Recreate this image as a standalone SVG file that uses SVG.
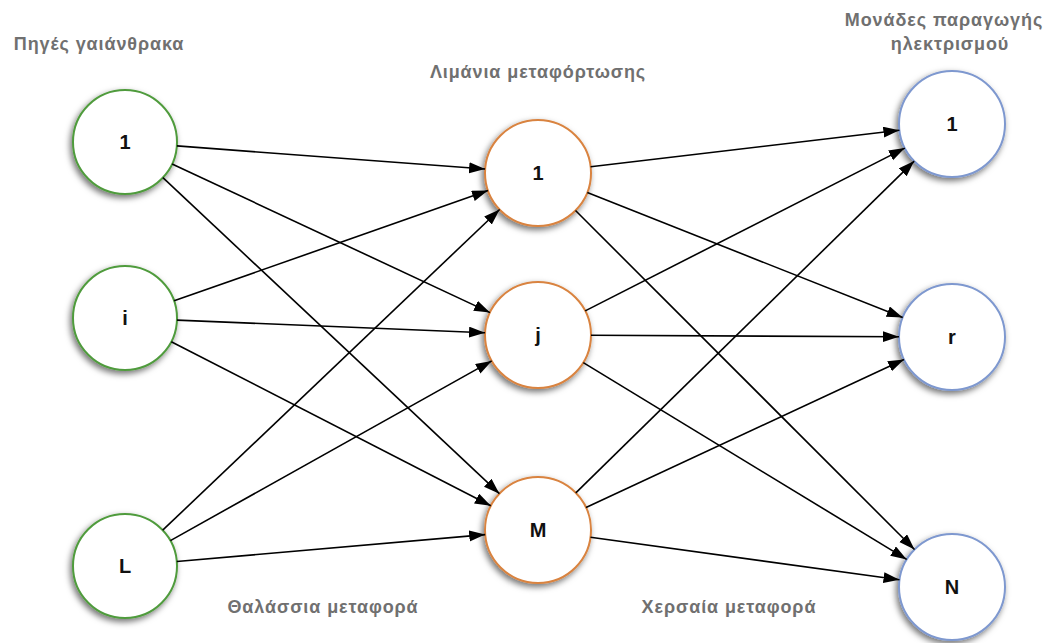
<svg xmlns="http://www.w3.org/2000/svg" width="1051" height="643" viewBox="0 0 1051 643">
  <style>
    .node circle { fill: #ffffff; stroke-width: 2; filter: url(#shadow); }
    .src circle { stroke: #4f9b3c; }
    .port circle { stroke: #d9833f; }
    .plant circle { stroke: #7e98cf; }
    .node text { font-family: "Liberation Sans", Arial, sans-serif; font-weight: bold; font-size: 20px; fill: #111; text-anchor: middle; dominant-baseline: central; }
    .title { font-family: "Liberation Sans", Arial, sans-serif; font-weight: bold; font-size: 18px; letter-spacing: 0.9px; fill: #707070; text-anchor: middle; }
    #connectors line { stroke: #000; stroke-width: 1.6; marker-end: url(#arrow); }
  </style>
  <defs>
    <filter id="shadow" x="-30%" y="-30%" width="160%" height="160%">
      <feDropShadow dx="-2" dy="3" stdDeviation="3" flood-color="#000" flood-opacity="0.55"/>
    </filter>
    <marker id="arrow" markerUnits="userSpaceOnUse" markerWidth="17" markerHeight="12" refX="16" refY="5.5" orient="auto">
      <path d="M0,0 L16,5.5 L0,11 z" fill="#000"/>
    </marker>
  </defs>

  <rect width="1051" height="643" fill="#ffffff"/>

  <!-- column titles -->
  <text class="title" x="99" y="50">Πηγές γαιάνθρακα</text>
  <text class="title" x="538" y="78">Λιμάνια μεταφόρτωσης</text>
  <text class="title" x="944" y="26">Μονάδες παραγωγής</text>
  <text class="title" x="950" y="50">ηλεκτρισμού</text>
  <text class="title" x="323" y="613">Θαλάσσια μεταφορά</text>
  <text class="title" x="729" y="613">Χερσαία μεταφορά</text>

  <!-- coal sources -->
  <g id="src-1" class="node src"><circle cx="125" cy="142" r="52"/><text x="125" y="142">1</text></g>
  <g id="src-i" class="node src"><circle cx="125" cy="318" r="52"/><text x="125" y="318">i</text></g>
  <g id="src-L" class="node src"><circle cx="125" cy="566" r="52"/><text x="125" y="566">L</text></g>

  <!-- transshipment ports -->
  <g id="port-1" class="node port"><circle cx="538" cy="173" r="53"/><text x="538" y="173">1</text></g>
  <g id="port-j" class="node port"><circle cx="538" cy="335" r="53"/><text x="538" y="335">j</text></g>
  <g id="port-M" class="node port"><circle cx="538" cy="530" r="53"/><text x="538" y="530">M</text></g>

  <!-- power plants -->
  <g id="plant-1" class="node plant"><circle cx="952" cy="124" r="53"/><text x="952" y="124">1</text></g>
  <g id="plant-r" class="node plant"><circle cx="952" cy="337" r="53"/><text x="952" y="337">r</text></g>
  <g id="plant-N" class="node plant"><circle cx="952" cy="587" r="53"/><text x="952" y="587">N</text></g>

  <g id="connectors">
    <!-- sea transport -->
    <line x1="176.9" y1="145.9" x2="485.1" y2="169.0"/>
    <line x1="172.1" y1="164.0" x2="490.0" y2="312.6"/>
    <line x1="162.9" y1="177.6" x2="499.4" y2="493.7"/>
    <line x1="174.1" y1="300.8" x2="488.0" y2="190.6"/>
    <line x1="177.0" y1="320.1" x2="485.0" y2="332.8"/>
    <line x1="171.3" y1="341.7" x2="490.8" y2="505.8"/>
    <line x1="162.7" y1="530.2" x2="499.6" y2="209.5"/>
    <line x1="170.4" y1="540.6" x2="491.7" y2="360.9"/>
    <line x1="176.8" y1="561.5" x2="485.2" y2="534.6"/>
    <!-- land transport -->
    <line x1="590.6" y1="166.8" x2="899.4" y2="130.2"/>
    <line x1="587.3" y1="192.5" x2="902.7" y2="317.5"/>
    <line x1="575.5" y1="210.5" x2="914.5" y2="549.5"/>
    <line x1="585.2" y1="310.9" x2="904.8" y2="148.1"/>
    <line x1="591.0" y1="335.3" x2="899.0" y2="336.7"/>
    <line x1="583.3" y1="362.6" x2="906.7" y2="559.4"/>
    <line x1="575.8" y1="492.9" x2="914.2" y2="161.1"/>
    <line x1="586.0" y1="507.6" x2="904.0" y2="359.4"/>
    <line x1="590.5" y1="537.2" x2="899.5" y2="579.8"/>
  </g>
</svg>
